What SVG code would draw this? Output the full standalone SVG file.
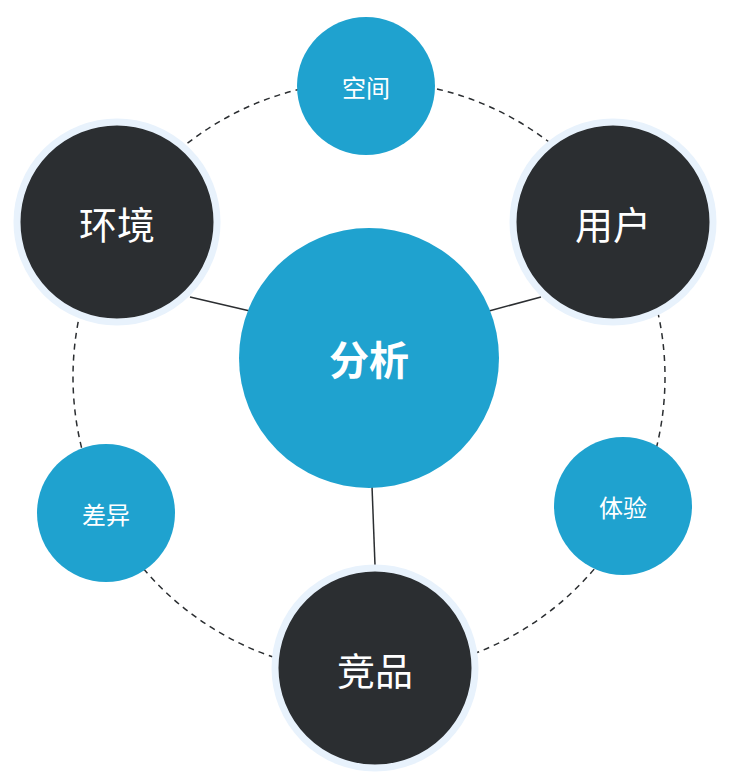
<svg xmlns="http://www.w3.org/2000/svg" width="730" height="780" viewBox="0 0 730 780">
<style>
.dash{fill:none;stroke:#2b2e31;stroke-width:1.5;stroke-dasharray:6 5}
.ln{stroke:#2b2e31;stroke-width:1.5}
.dark{fill:#2b2e31;stroke:#e8f2fc;stroke-width:7}
.blue{fill:#1fa2cf}
text{font-family:"Noto Sans CJK SC","Noto Sans",sans-serif;fill:#fff;text-anchor:middle;dominant-baseline:central}
.big{font-size:38px}
.sm{font-size:24px}
</style>
<rect width="730" height="780" fill="#fff"/>
<g id="connectors">
<circle class="dash" cx="369" cy="377" r="296"/>
<line class="ln" x1="190" y1="297" x2="250" y2="311"/>
<line class="ln" x1="489" y1="311" x2="541" y2="297"/>
<line class="ln" x1="372" y1="486" x2="375" y2="565"/>
</g>
<g id="center"><circle class="blue" cx="369" cy="358" r="130"/><text x="369" y="358" font-size="40" font-weight="bold">分析</text></g>
<g id="huanjing"><circle class="dark" cx="117" cy="222" r="100"/><text class="big" x="117" y="222">环境</text></g>
<g id="yonghu"><circle class="dark" cx="613" cy="222" r="100"/><text class="big" x="613" y="222">用户</text></g>
<g id="jingpin"><circle class="dark" cx="375" cy="668" r="100"/><text class="big" x="375" y="668">竞品</text></g>
<g id="kongjian"><circle class="blue" cx="366" cy="86" r="69"/><text class="sm" x="366" y="86">空间</text></g>
<g id="tiyan"><circle class="blue" cx="623" cy="506" r="69"/><text class="sm" x="623" y="506">体验</text></g>
<g id="chayi"><circle class="blue" cx="106" cy="513" r="69"/><text class="sm" x="106" y="513">差异</text></g>
</svg>
